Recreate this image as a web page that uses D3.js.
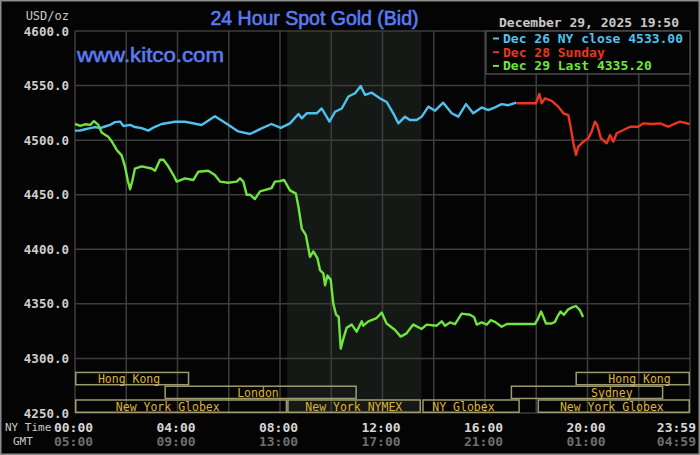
<!DOCTYPE html>
<html>
<head>
<meta charset="utf-8">
<script src="https://cdn.jsdelivr.net/npm/d3@7"></script>
<style>
html,body{margin:0;padding:0;background:#000;}
svg{display:block;}
</style>
</head>
<body>
<svg id="chart" width="700" height="455"></svg>
<script>
// ---------- DATA ----------
const yTicks = [4250, 4300, 4350, 4400, 4450, 4500, 4550, 4600];
const xTickHours = [0, 4, 8, 12, 16, 20, 23.983];
const nyTimeLabels = ["00:00", "04:00", "08:00", "12:00", "16:00", "20:00", "23:59"];
const gmtLabels = ["05:00", "09:00", "13:00", "17:00", "21:00", "01:00", "04:59"];

// Dec 26 NY close (blue)
const blueHours = [0, 0.2, 0.39, 0.59, 0.78, 0.98, 1.17, 1.37, 1.56, 1.76, 1.89, 2.15, 2.34, 2.6, 2.86, 3.1, 3.38, 3.9, 4.29, 4.55, 4.94, 5.46, 5.98, 6.37, 6.83, 7.28, 7.67, 8.03, 8.39, 8.72, 8.85, 9.04, 9.43, 9.63, 9.93, 10.15, 10.41, 10.67, 10.93, 11.15, 11.32, 11.58, 11.9, 12.16, 12.42, 12.62, 12.88, 13.07, 13.33, 13.53, 13.79, 14.05, 14.37, 14.7, 14.96, 15.26, 15.54, 15.87, 16.13, 16.39, 16.65, 16.91, 17.22];
const blueValues = [4508.7, 4508.7, 4510, 4511, 4512, 4511, 4512.5, 4514, 4516.5, 4517, 4513, 4514, 4512, 4511, 4508.7, 4512, 4514.8, 4516.9, 4516.9, 4515.7, 4513.9, 4522, 4514, 4508, 4505.6, 4510.8, 4514.8, 4511.3, 4515.4, 4524, 4520, 4524.6, 4524.6, 4529, 4517, 4526, 4529, 4540, 4543, 4549.6, 4541.4, 4543.5, 4538.3, 4535, 4524.6, 4515.4, 4521.5, 4518.4, 4518.4, 4521.5, 4530.7, 4527, 4534.3, 4524.6, 4521.5, 4533, 4524.6, 4530, 4527.5, 4530, 4533, 4532, 4534.3];

// Dec 28 Sunday (red)
const redHours = [17.22, 17.99, 18.12, 18.21, 18.34, 18.6, 18.86, 19.06, 19.25, 19.34, 19.45, 19.55, 19.64, 19.84, 20.03, 20.16, 20.29, 20.38, 20.52, 20.75, 20.88, 21.01, 21.14, 21.4, 21.66, 21.98, 22.18, 22.5, 22.83, 23.15, 23.35, 23.61, 23.98];
const redValues = [4533.8, 4533.8, 4542.3, 4533.8, 4538.3, 4536, 4530.7, 4524.6, 4523, 4512.3, 4497.1, 4486.4, 4494, 4498.6, 4501.7, 4507.8, 4516.9, 4513.9, 4501.7, 4497.1, 4504.7, 4498.6, 4506.3, 4509.3, 4512.3, 4512.3, 4515.4, 4514.8, 4515.4, 4512.3, 4514.5, 4516.9, 4514.8];

// Dec 29 Last (green)
const greenHours = [0, 0.2, 0.39, 0.6, 0.74, 0.91, 1.04, 1.17, 1.3, 1.43, 1.63, 1.82, 1.95, 2.06, 2.15, 2.24, 2.34, 2.6, 2.99, 3.12, 3.32, 3.45, 3.64, 3.84, 3.97, 4.29, 4.62, 4.81, 5.2, 5.46, 5.66, 5.98, 6.31, 6.44, 6.57, 6.7, 6.83, 7.02, 7.22, 7.67, 7.8, 8.0, 8.16, 8.39, 8.62, 8.72, 8.85, 9.01, 9.17, 9.3, 9.46, 9.56, 9.69, 9.76, 9.85, 9.98, 10.08, 10.19, 10.29, 10.37, 10.47, 10.6, 10.8, 10.99, 11.19, 11.25, 11.45, 11.77, 11.97, 12.16, 12.49, 12.71, 12.94, 13.2, 13.53, 13.72, 14.11, 14.31, 14.44, 14.63, 14.83, 15.09, 15.41, 15.57, 15.68, 15.87, 16.07, 16.22, 16.39, 16.65, 16.85, 17.95, 18.08, 18.19, 18.28, 18.38, 18.6, 18.73, 18.82, 18.95, 19.08, 19.25, 19.42, 19.55, 19.71, 19.83];
const greenValues = [4515, 4513, 4514.5, 4514, 4517.5, 4514, 4507, 4505, 4503, 4499, 4491, 4486, 4476, 4463, 4455, 4463, 4474, 4476, 4474, 4472, 4482, 4482, 4476, 4468, 4462, 4465, 4463.5, 4471, 4472, 4468, 4462, 4461, 4462, 4465, 4462, 4450, 4450, 4446, 4453, 4456, 4462, 4462.5, 4463.5, 4454, 4451, 4439, 4419, 4413, 4393, 4398, 4392, 4381, 4378, 4367, 4376, 4372, 4350, 4340, 4338, 4309, 4318, 4328, 4331, 4324.5, 4334, 4330, 4334, 4337, 4342, 4332, 4326, 4320, 4323, 4331, 4327, 4331, 4330, 4334, 4330, 4333, 4331.5, 4341, 4340, 4338, 4331, 4333, 4331, 4335, 4333.5, 4329, 4331.5, 4331.5, 4337, 4343, 4338, 4332, 4332, 4333.5, 4338, 4343, 4340, 4345, 4347, 4348, 4344, 4338];

const legendLabels = ["Dec 26 NY close 4533.00", "Dec 28 Sunday", "Dec 29 Last 4335.20"];

// NYMEX shaded session (hours)
const shadeStart = 8.28, shadeEnd = 13.52;

// Trading sessions: row 0 = top
const sessionNames = ["Hong Kong", "Hong Kong", "London", "Sydney", "New York Globex", "New York NYMEX", "NY Globex", "New York Globex"];
const sessionRows  = [0, 0, 1, 1, 2, 2, 2, 2];
const sessionStart = [0, 19.53, 3.49, 17.0, 0, 8.28, 13.55, 18.05];
const sessionEnd   = [4.46, 24, 11.0, 22.96, 8.28, 13.5, 17.36, 24];
const sessionLabelAt = [2.11, 22.03, 7.14, 20.95, 3.62, 10.88, 15.16, 20.95];

// ---------- DRAW ----------
const svg = d3.select("#chart");
const W = 700, H = 455;
const pL = 75, pR = 690, pT = 31, pB = 413;
const x = d3.scaleLinear().domain([0, 24]).range([pL, pR]);
const y = d3.scaleLinear().domain([4250, 4600]).range([pB, pT]);

const mono = "'DejaVu Sans Mono', 'Liberation Mono', monospace";
const sans = "'Liberation Sans', Arial, sans-serif";

svg.append("rect").attr("width", W).attr("height", H).attr("fill", "#040404");

// shading
svg.append("rect")
  .attr("x", x(shadeStart)).attr("y", pT)
  .attr("width", x(shadeEnd) - x(shadeStart)).attr("height", pB - pT)
  .attr("fill", "#151915");

// grid
const gridColor = "#3d3d3d";
const vHours = d3.range(0, 25, 2);
svg.append("g").selectAll("line").data(vHours).join("line")
  .attr("x1", d => x(d)).attr("x2", d => x(d))
  .attr("y1", pT).attr("y2", pB)
  .attr("stroke", gridColor).attr("stroke-width", 1.5);
svg.append("g").selectAll("line").data(yTicks).join("line")
  .attr("x1", pL).attr("x2", pR)
  .attr("y1", d => y(d)).attr("y2", d => y(d))
  .attr("stroke", gridColor).attr("stroke-width", 1.5);

// y-axis labels
svg.append("g").selectAll("text").data(yTicks).join("text")
  .attr("x", 69).attr("y", d => y(d))
  .attr("text-anchor", "end").attr("dominant-baseline", "central")
  .attr("font-family", mono).attr("font-weight", "bold").attr("font-size", 12.5)
  .attr("fill", "#cfcfcf")
  .text(d => d3.format(".1f")(d));

svg.append("text").attr("x", 69).attr("y", 16)
  .attr("text-anchor", "end").attr("dominant-baseline", "central")
  .attr("font-family", mono).attr("font-size", 12).attr("fill", "#c8c8c8")
  .text("USD/oz");

// sessions
const rowH = (pB - 371.7) / 3;
const sess = sessionNames.map((n, i) => ({ name: n, row: sessionRows[i], s: sessionStart[i], e: sessionEnd[i], at: sessionLabelAt[i] }));
const sg = svg.append("g");
sg.selectAll("rect").data(sess).join("rect")
  .attr("x", d => x(d.s) + 0.75).attr("width", d => x(d.e) - x(d.s) - 1.5)
  .attr("y", d => pB - (3 - d.row) * rowH + 0.75).attr("height", rowH - 1.5)
  .attr("fill", "none").attr("stroke", "#9d9a72").attr("stroke-width", 1.5);
sg.selectAll("text").data(sess).join("text")
  .attr("x", d => x(d.at))
  .attr("y", d => pB - (3 - d.row) * rowH + rowH / 2 + 0.5)
  .attr("text-anchor", "middle").attr("dominant-baseline", "central")
  .attr("font-family", mono).attr("font-size", 11.5).attr("fill", "#dcb437")
  .text(d => d.name);

// lines
const line = d3.line().x(d => x(d[0])).y(d => y(d[1]));
function series(hours, vals, color) {
  svg.append("path")
    .datum(hours.map((h, i) => [h, vals[i]]))
    .attr("d", line).attr("fill", "none")
    .attr("stroke", color).attr("stroke-width", 2.4)
    .attr("stroke-linejoin", "round");
}
series(blueHours, blueValues, "#4fc1ef");
series(redHours, redValues, "#ea3521");
series(greenHours, greenValues, "#6ee63e");

// legend
const lg = svg.append("g");
lg.append("rect").attr("x", 486).attr("y", pT).attr("width", pR - 486).attr("height", 43)
  .attr("fill", "#040404").attr("stroke", "#4a4a4a").attr("stroke-width", 1.5);
const legendColors = ["#4fc1ef", "#ea3521", "#6ee63e"];
legendLabels.forEach((t, i) => {
  const cy = 38.5 + i * 13.7;
  lg.append("line").attr("x1", 493).attr("x2", 499).attr("y1", cy).attr("y2", cy)
    .attr("stroke", legendColors[i]).attr("stroke-width", 2);
  lg.append("text").attr("x", 503).attr("y", cy)
    .attr("dominant-baseline", "central")
    .attr("font-family", mono).attr("font-weight", "bold").attr("font-size", 13)
    .attr("fill", legendColors[i]).text(t);
});

// date/time
svg.append("text").attr("x", 499).attr("y", 22.5)
  .attr("dominant-baseline", "central")
  .attr("font-family", mono).attr("font-weight", "bold").attr("font-size", 13)
  .attr("fill", "#c8c8c8").text("December 29, 2025 19:50");

// title + site
svg.append("text").attr("x", 314.5).attr("y", 25)
  .attr("text-anchor", "middle")
  .attr("font-family", sans).attr("font-size", 19.5).attr("fill", "#5a7cf2")
  .attr("stroke", "#5a7cf2").attr("stroke-width", 0.6)
  .text("24 Hour Spot Gold (Bid)");
svg.append("text").attr("x", 77).attr("y", 61.5)
  .attr("font-family", sans).attr("font-size", 21)
  .attr("textLength", 147).attr("lengthAdjust", "spacingAndGlyphs")
  .attr("fill", "#5a7cf2").attr("stroke", "#5a7cf2").attr("stroke-width", 0.6)
  .text("www.kitco.com");

// x labels
const xl = svg.append("g");
xTickHours.forEach((h, i) => {
  const last = i === xTickHours.length - 1;
  const px = last ? 696 : x(h) - 1.5;
  const anchor = last ? "end" : "middle";
  xl.append("text").attr("x", px).attr("y", 427.5)
    .attr("text-anchor", anchor).attr("dominant-baseline", "central")
    .attr("font-family", mono).attr("font-weight", "bold").attr("font-size", 13)
    .attr("fill", "#d6d6d6").text(nyTimeLabels[i]);
  xl.append("text").attr("x", px).attr("y", 441.7)
    .attr("text-anchor", anchor).attr("dominant-baseline", "central")
    .attr("font-family", mono).attr("font-weight", "bold").attr("font-size", 13)
    .attr("fill", "#6e6e6e").text(gmtLabels[i]);
});
svg.append("text").attr("x", 5).attr("y", 427.5).attr("dominant-baseline", "central")
  .attr("font-family", mono).attr("font-size", 11).attr("fill", "#c8c8c8").text("NY Time");
svg.append("text").attr("x", 13).attr("y", 441.7).attr("dominant-baseline", "central")
  .attr("font-family", mono).attr("font-size", 11).attr("fill", "#c8c8c8").text("GMT");

// outer frame
svg.append("rect").attr("x", 0.75).attr("y", 0.75).attr("width", W - 1.5).attr("height", H - 1.5)
  .attr("fill", "none").attr("stroke", "#8c8c8c").attr("stroke-width", 1.5);
</script>
</body>
</html>
